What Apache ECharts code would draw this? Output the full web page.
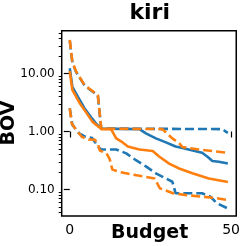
<!DOCTYPE html>
<html><head><meta charset="utf-8">
<script src="https://cdn.jsdelivr.net/npm/echarts@6/dist/echarts.min.js"></script>
<style>html,body{margin:0;padding:0;background:#fff}#c{width:243px;height:246px}</style>
</head><body><div id="c"></div>
<script>
// Data: [budget, BOV]
const blueMedian = [[0,12.3],[0.8,5.9],[2.5,4.0],[4.6,2.5],[6.6,1.76],[8.1,1.38],[9.75,1.12],[21.6,1.1],[23.6,0.93],[26.7,0.76],[29.8,0.65],[32.8,0.55],[34.9,0.52],[41,0.43],[42.6,0.37],[44.2,0.31],[46.2,0.30],[49,0.28]];
const blueUpper = [[0,37],[0.8,15.5],[2.0,10.5],[4.6,6.2],[6.6,5.1],[8.7,4.2],[9.75,1.12],[47.3,1.1],[48.3,1.0],[49,0.95]];
const blueLower = [[0,2.5],[0.8,1.3],[2.9,0.93],[4.9,0.81],[7,0.77],[8.7,0.55],[9.75,0.49],[14.4,0.49],[17.5,0.42],[20.5,0.32],[23.6,0.25],[26.7,0.19],[29.8,0.155],[31.8,0.136],[32.8,0.086],[41,0.086],[43.6,0.075],[45.6,0.058],[49,0.047]];
const orangeMedian = [[0,11],[0.8,5.2],[2.9,3.2],[4.9,2.2],[7,1.48],[9,1.2],[9.75,1.1],[12.8,1.1],[14.4,0.76],[16,0.67],[18,0.55],[21.6,0.49],[25.7,0.46],[27.7,0.37],[30.8,0.28],[33.9,0.23],[38,0.19],[43.1,0.155],[49,0.135]];
const orangeUpper = [[0,38],[0.8,15.9],[2.0,10.7],[4.6,6.3],[6.6,5.2],[8.7,4.26],[9.75,1.12],[28.7,1.1],[31.8,0.76],[33.9,0.63],[34.9,0.54],[40,0.49],[44.2,0.46],[49,0.43]];
const orangeLower = [[0,2.5],[0.6,1.38],[1.7,1.13],[3.7,0.81],[5.8,0.73],[7.8,0.72],[8.8,0.59],[9.3,0.47],[11.4,0.42],[12.4,0.33],[13.2,0.22],[15.5,0.2],[19.6,0.18],[26.3,0.155],[27.9,0.105],[32,0.086],[36.1,0.08],[41.3,0.075],[45.3,0.071],[49,0.066]];
const xTicks = [0, 50];
const yTicks = [0.1, 1, 10];

const BLUE = '#1f77b4', ORANGE = '#ff7f0e';
const lg = v => Math.log10(v);
const tr = arr => arr.map(p => [p[0], lg(p[1])]);
const minorVals = [];
[0.01, 0.1, 1, 10].forEach(d => { for (let k = 2; k <= 9; k++) minorVals.push(lg(k * d)); });
const yMin = -1.457, yMax = 1.738;

function line(data, color, dashed) {
  return { type: 'line', data: tr(data), showSymbol: false, symbol: 'none', silent: true,
    lineStyle: { color: color, width: 2.6, type: dashed ? [9, 4] : 'solid', cap: 'butt' },
    yAxisIndex: 0 };
}

const chart = echarts.init(document.getElementById('c'), null, { renderer: 'canvas' });
chart.setOption({
  animation: false,
  grid: { left: 61.7, right: 5.3, top: 30.7, bottom: 30, show: true, borderColor: '#000', borderWidth: 1.5, containLabel: false },
  xAxis: { type: 'value', min: -2.5, max: 51.6, axisLine: { show: false }, splitLine: { show: false },
    axisTick: { customValues: xTicks, length: 6, lineStyle: { color: '#000', width: 1.2 } },
    axisLabel: { customValues: xTicks, fontSize: 14, color: '#000', margin: 7, fontFamily: 'DejaVu Sans' } },
  yAxis: [
    { type: 'value', min: yMin, max: yMax, axisLine: { show: false }, splitLine: { show: false },
      axisTick: { customValues: yTicks.map(lg), length: 6, lineStyle: { color: '#000', width: 1.2 } },
      axisLabel: { customValues: yTicks.map(lg), fontSize: 12, color: '#000', margin: 7, fontFamily: 'DejaVu Sans',
        formatter: v => Math.pow(10, v).toFixed(2) } },
    { type: 'value', min: yMin, max: yMax, position: 'left', axisLine: { show: false }, splitLine: { show: false },
      axisTick: { customValues: minorVals.filter(v => v > yMin && v < yMax), length: 3, lineStyle: { color: '#000', width: 1 } },
      axisLabel: { show: false } }
  ],
  graphic: [
    { type: 'text', x: 149.7, y: 13, style: { text: 'kiri', font: 'bold 22px "DejaVu Sans"', fill: '#000', textAlign: 'center', textVerticalAlign: 'middle' } },
    { type: 'text', x: 149.7, y: 233, style: { text: 'Budget', font: 'bold 19px "DejaVu Sans"', fill: '#000', textAlign: 'center', textVerticalAlign: 'middle' } },
    { type: 'text', x: 9, y: 123, rotation: Math.PI / 2, style: { text: 'BOV', font: 'bold 19px "DejaVu Sans"', fill: '#000', textAlign: 'center', textVerticalAlign: 'middle' } }
  ],
  series: [
    line(blueMedian, BLUE, false),
    line(blueUpper, BLUE, true),
    line(blueLower, BLUE, true),
    line(orangeMedian, ORANGE, false),
    line(orangeUpper, ORANGE, true),
    line(orangeLower, ORANGE, true)
  ]
});
</script></body></html>
